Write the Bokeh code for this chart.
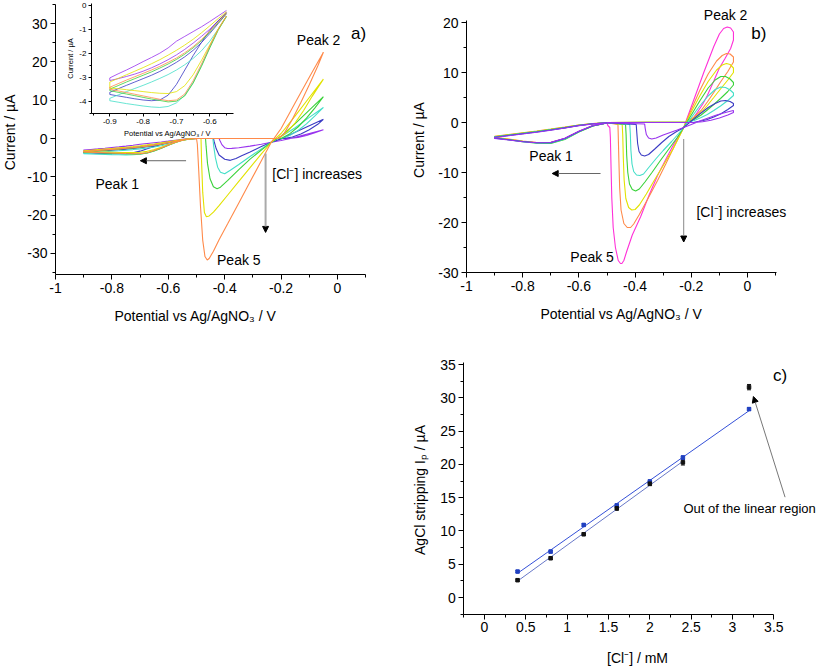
import math
import numpy as np
from bokeh.plotting import figure
from bokeh.models import (Range1d, LinearAxis, FixedTicker, Label, Arrow, NormalHead,
                          Whisker, TeeHead, ColumnDataSource, Spacer)
from bokeh.layouts import row, column
from bokeh.embed import file_html
from bokeh.resources import INLINE

FONT = "Liberation Sans"

# ---------------------------------------------------------------- panel a data
A_P1_X = [-0.9, -0.875, -0.85, -0.825, -0.8, -0.775, -0.75, -0.725, -0.7, -0.675,
          -0.65, -0.625, -0.6, -0.575, -0.55, -0.525, -0.5]

A_VIOLET_LOW = [-3.14, -3.06, -2.97, -2.87, -2.75, -2.61, -2.45, -2.27, -2.07, -1.84, -1.58, -1.3, -1.0, -0.65, -0.3, -0.1, 0.0]
A_VIOLET_UP = [-3.03, -2.86, -2.7, -2.53, -2.35, -2.18, -2.0, -1.78, -1.5, -1.3, -1.1, -0.9, -0.68, -0.45, -0.22, -0.06, 0.0]
A_VIOLET_DX = [-0.05, -0.1, -0.15, -0.2, -0.235, -0.27, -0.31, -0.35, -0.375, -0.39, -0.4, -0.41, -0.417, -0.42]
A_VIOLET_DY = [2.3, 1.3, 0.3, -0.5, -1.0, -1.5, -2.0, -2.4, -2.58, -2.6, -2.4, -1.6, -0.5, 0.0]
A_VIOLET_RX = [-0.5, -0.17, -0.14, -0.11, -0.08, -0.05]
A_VIOLET_RY = [0.0, 0.0, 0.3, 0.8, 1.5, 2.3]

A_BLUE_LOW = [-3.72, -3.78, -3.84, -3.9, -3.95, -3.98, -3.95, -3.75, -3.3, -2.7, -2.1, -1.55, -1.05, -0.65, -0.32, -0.1, 0.0]
A_BLUE_UP = [-3.63, -3.48, -3.34, -3.2, -3.06, -2.92, -2.76, -2.58, -2.38, -2.15, -1.88, -1.56, -1.18, -0.77, -0.36, -0.08, 0.0]
A_BLUE_DX = [-0.05, -0.1, -0.15, -0.2, -0.235, -0.27, -0.31, -0.34, -0.36, -0.38, -0.4, -0.42, -0.43, -0.437, -0.44]
A_BLUE_DY = [5.0, 3.3, 1.6, -0.1, -1.0, -2.1, -3.5, -4.5, -5.2, -5.7, -5.4, -4.3, -2.7, -0.9, 0.0]
A_BLUE_RX = [-0.5, -0.19, -0.16, -0.13, -0.1, -0.07, -0.05]
A_BLUE_RY = [0.0, 0.0, 0.4, 1.2, 2.3, 3.7, 5.0]

A_CYAN_LOW = [-3.98, -4.04, -4.1, -4.15, -4.2, -4.24, -4.26, -4.22, -4.07, -3.75, -3.22, -2.52, -1.75, -1.02, -0.48, -0.12, 0.0]
A_CYAN_UP = [-3.88, -3.74, -3.6, -3.47, -3.34, -3.2, -3.05, -2.89, -2.7, -2.48, -2.22, -1.9, -1.5, -1.0, -0.45, -0.08, 0.0]
A_CYAN_DX = [-0.05, -0.1, -0.15, -0.2, -0.235, -0.27, -0.31, -0.35, -0.38, -0.4, -0.415, -0.425, -0.433, -0.439, -0.442]
A_CYAN_DY = [8.1, 5.5, 2.8, 0.5, -1.0, -2.7, -4.7, -6.8, -8.3, -9.2, -8.8, -7.5, -5.0, -2.0, 0.0]
A_CYAN_RX = [-0.5, -0.2, -0.17, -0.14, -0.11, -0.08, -0.05]
A_CYAN_RY = [0.0, 0.0, 0.8, 2.1, 3.8, 5.9, 8.1]

A_GREEN_LOW = [-3.56, -3.63, -3.7, -3.77, -3.84, -3.91, -3.97, -4.03, -4.0, -3.78, -3.25, -2.55, -1.78, -1.05, -0.47, -0.12, 0.0]
A_GREEN_UP = [-3.5, -3.35, -3.2, -3.06, -2.92, -2.78, -2.62, -2.45, -2.26, -2.04, -1.78, -1.48, -1.12, -0.73, -0.34, -0.08, 0.0]
A_GREEN_DX = [-0.05, -0.1, -0.15, -0.2, -0.235, -0.27, -0.31, -0.35, -0.39, -0.415, -0.427, -0.44, -0.452, -0.461, -0.466, -0.468]
A_GREEN_DY = [10.9, 7.4, 3.9, 0.6, -1.0, -3.0, -5.4, -8.1, -11.0, -12.7, -13.1, -12.6, -10.5, -6.5, -2.0, 0.0]
A_GREEN_RX = [-0.5, -0.2, -0.17, -0.14, -0.11, -0.08, -0.05]
A_GREEN_RY = [0.0, 0.0, 1.2, 3.0, 5.3, 8.0, 10.9]

A_YELLOW_LOW = [-3.45, -3.48, -3.52, -3.56, -3.6, -3.64, -3.67, -3.68, -3.6, -3.35, -2.9, -2.3, -1.65, -1.0, -0.45, -0.12, 0.0]
A_YELLOW_UP = [-3.2, -3.05, -2.9, -2.75, -2.6, -2.44, -2.27, -2.08, -1.88, -1.66, -1.42, -1.15, -0.86, -0.56, -0.27, -0.07, 0.0]
A_YELLOW_DX = [-0.05, -0.1, -0.15, -0.2, -0.235, -0.27, -0.31, -0.35, -0.39, -0.42, -0.44, -0.455, -0.465, -0.472, -0.478, -0.482, -0.484]
A_YELLOW_DY = [15.5, 10.7, 5.9, 1.3, -1.0, -4.0, -7.6, -11.2, -14.8, -17.5, -19.2, -20.2, -20.4, -19.3, -14.0, -6.0, 0.0]
A_YELLOW_RX = [-0.5, -0.21, -0.18, -0.15, -0.12, -0.09, -0.05]
A_YELLOW_RY = [0.0, 0.0, 1.6, 4.1, 7.3, 11.0, 15.5]

A_ORANGE_LOW = [-3.5, -3.57, -3.64, -3.71, -3.78, -3.85, -3.92, -3.98, -3.95, -3.7, -3.15, -2.45, -1.7, -1.0, -0.45, -0.12, 0.0]
A_ORANGE_UP = [-3.42, -3.27, -3.12, -2.98, -2.84, -2.7, -2.55, -2.38, -2.2, -1.98, -1.73, -1.43, -1.08, -0.7, -0.32, -0.08, 0.0]
A_ORANGE_DX = [-0.05, -0.1, -0.15, -0.2, -0.235, -0.27, -0.31, -0.35, -0.39, -0.42, -0.44, -0.455, -0.462, -0.47, -0.478, -0.486, -0.492, -0.497, -0.5]
A_ORANGE_DY = [22.5, 16.0, 9.3, 2.6, -1.0, -5.8, -11.3, -16.8, -22.3, -26.4, -29.4, -31.3, -31.7, -30.8, -26.5, -17.5, -8.5, -1.5, 0.0]
A_ORANGE_RX = [-0.5, -0.21, -0.19, -0.16, -0.13, -0.1, -0.07, -0.05]
A_ORANGE_RY = [0.0, 0.0, 1.2, 5.0, 9.4, 14.0, 18.9, 22.5]

# ---------------------------------------------------------------- panel b data
B_P1_X = [-0.9, -0.85, -0.8, -0.75, -0.7, -0.65, -0.6, -0.55, -0.5]

B_VIOLET_LOW = [-3.2, -3.5, -3.85, -4.05, -4.0, -3.15, -1.75, -0.62, -0.1]
B_VIOLET_UP = [-3.0, -2.65, -2.3, -1.95, -1.55, -1.1, -0.62, -0.27, -0.05]
B_VIOLET_SX = [-0.366, -0.364, -0.36, -0.352, -0.341, -0.325, -0.3, -0.275, -0.25, -0.227, -0.2, -0.17, -0.14, -0.11, -0.085, -0.065, -0.05]
B_VIOLET_SY = [-0.3, -1.2, -2.4, -3.1, -3.3, -3.1, -2.5, -2.0, -1.5, -1.0, -0.4, 0.3, 0.9, 1.5, 1.9, 2.2, 2.4]
B_VIOLET_RX = [-0.05, -0.07, -0.1, -0.13, -0.16, -0.19, -0.5]
B_VIOLET_RY = [2.0, 1.5, 0.9, 0.45, 0.15, 0.0, 0.0]

B_BLUE_LOW = [-3.15, -3.45, -3.8, -4.05, -4.02, -3.2, -1.8, -0.64, -0.1]
B_BLUE_UP = [-2.95, -2.6, -2.25, -1.9, -1.5, -1.07, -0.6, -0.26, -0.05]
B_BLUE_SX = [-0.396, -0.394, -0.391, -0.386, -0.378, -0.366, -0.352, -0.33, -0.305, -0.28, -0.255, -0.227, -0.2, -0.17, -0.14, -0.115, -0.095, -0.078, -0.062, -0.05]
B_BLUE_SY = [-0.4, -2.0, -4.2, -5.8, -6.5, -6.7, -6.4, -5.3, -4.0, -2.8, -1.9, -1.0, 0.3, 1.7, 3.0, 3.8, 4.3, 4.4, 4.2, 3.8]
B_BLUE_RX = [-0.05, -0.07, -0.096, -0.12, -0.143, -0.165, -0.19, -0.5]
B_BLUE_RY = [3.4, 2.6, 1.7, 1.1, 0.6, 0.3, 0.05, 0.0]

B_CYAN_LOW = [-3.1, -3.45, -3.82, -4.1, -4.1, -3.3, -1.87, -0.67, -0.1]
B_CYAN_UP = [-2.9, -2.55, -2.2, -1.85, -1.46, -1.04, -0.58, -0.25, -0.05]
B_CYAN_SX = [-0.419, -0.417, -0.415, -0.411, -0.405, -0.395, -0.383, -0.37, -0.35, -0.325, -0.3, -0.27, -0.245, -0.227, -0.2, -0.17, -0.14, -0.115, -0.095, -0.078, -0.062, -0.05]
B_CYAN_SY = [-0.4, -2.3, -5.5, -8.3, -9.8, -10.5, -10.6, -10.3, -8.9, -7.2, -5.6, -3.8, -2.2, -1.0, 1.0, 3.3, 5.3, 6.6, 7.1, 7.0, 6.5, 5.9]
B_CYAN_RX = [-0.05, -0.07, -0.096, -0.12, -0.143, -0.165, -0.19, -0.21, -0.5]
B_CYAN_RY = [5.4, 4.4, 3.3, 2.4, 1.6, 1.0, 0.4, 0.05, 0.0]

B_GREEN_LOW = [-3.05, -3.45, -3.85, -4.15, -4.2, -3.4, -1.92, -0.7, -0.1]
B_GREEN_UP = [-2.85, -2.5, -2.15, -1.8, -1.42, -1.0, -0.56, -0.24, -0.05]
B_GREEN_SX = [-0.434, -0.432, -0.43, -0.426, -0.42, -0.41, -0.398, -0.385, -0.365, -0.34, -0.31, -0.28, -0.25, -0.227, -0.2, -0.17, -0.14, -0.115, -0.095, -0.078, -0.062, -0.05]
B_GREEN_SY = [-0.4, -2.5, -6.5, -10.0, -12.3, -13.4, -13.7, -13.3, -11.9, -10.0, -7.6, -5.3, -3.0, -1.0, 1.5, 4.3, 6.9, 8.5, 9.2, 9.2, 8.7, 8.0]
B_GREEN_RX = [-0.05, -0.07, -0.096, -0.12, -0.143, -0.165, -0.19, -0.21, -0.5]
B_GREEN_RY = [7.5, 6.2, 4.8, 3.6, 2.5, 1.5, 0.6, 0.1, 0.0]

B_YELLOW_LOW = [-3.0, -3.35, -3.75, -4.05, -4.07, -3.3, -1.86, -0.68, -0.1]
B_YELLOW_UP = [-2.8, -2.45, -2.1, -1.75, -1.37, -0.96, -0.53, -0.22, -0.05]
B_YELLOW_SX = [-0.446, -0.444, -0.442, -0.439, -0.433, -0.423, -0.412, -0.4, -0.385, -0.36, -0.33, -0.3, -0.265, -0.227, -0.2, -0.17, -0.14, -0.11, -0.09, -0.075, -0.062, -0.05]
B_YELLOW_SY = [-0.4, -2.5, -7.0, -11.5, -15.2, -17.0, -17.5, -17.4, -16.5, -14.3, -11.4, -8.6, -5.3, -1.0, 2.1, 5.3, 8.2, 10.5, 11.5, 11.8, 11.6, 10.9]
B_YELLOW_RX = [-0.05, -0.07, -0.096, -0.12, -0.143, -0.165, -0.19, -0.212, -0.5]
B_YELLOW_RY = [10.0, 8.5, 6.7, 5.0, 3.4, 2.0, 0.9, 0.1, 0.0]

B_ORANGE_LOW = [-2.95, -3.3, -3.7, -4.0, -4.02, -3.25, -1.82, -0.66, -0.1]
B_ORANGE_UP = [-2.75, -2.4, -2.05, -1.7, -1.33, -0.93, -0.51, -0.21, -0.05]
B_ORANGE_SX = [-0.461, -0.46, -0.458, -0.455, -0.45, -0.44, -0.428, -0.416, -0.405, -0.385, -0.355, -0.32, -0.29, -0.26, -0.227, -0.2, -0.17, -0.14, -0.11, -0.09, -0.075, -0.062, -0.05]
B_ORANGE_SY = [-0.4, -2.5, -7.0, -13.0, -17.5, -20.2, -21.0, -21.0, -20.3, -18.4, -15.3, -11.6, -8.2, -4.7, -1.0, 2.6, 6.4, 9.7, 12.3, 13.4, 13.8, 13.7, 13.1]
B_ORANGE_RX = [-0.05, -0.07, -0.096, -0.12, -0.143, -0.165, -0.19, -0.215, -0.5]
B_ORANGE_RY = [12.1, 10.2, 8.1, 6.0, 4.1, 2.4, 1.1, 0.1, 0.0]

B_MAGENTA_LOW = [-3.1, -3.4, -3.75, -4.0, -3.97, -3.17, -1.77, -0.62, -0.1]
B_MAGENTA_UP = [-2.9, -2.55, -2.2, -1.85, -1.45, -1.03, -0.57, -0.25, -0.05]
B_MAGENTA_SX = [-0.497, -0.49, -0.488, -0.486, -0.483, -0.478, -0.47, -0.46, -0.452, -0.447, -0.44, -0.43, -0.41, -0.38, -0.35, -0.32, -0.29, -0.26, -0.227, -0.19, -0.155, -0.12, -0.1, -0.085, -0.072, -0.06, -0.05]
B_MAGENTA_SY = [-0.6, -1.0, -3.0, -8.0, -15.0, -21.0, -25.0, -27.6, -28.2, -28.2, -27.6, -25.8, -22.5, -18.8, -14.5, -10.6, -7.3, -4.1, -1.0, 4.7, 10.1, 15.2, 17.7, 18.8, 19.1, 18.9, 18.1]
B_MAGENTA_RX = [-0.05, -0.06, -0.08, -0.1, -0.12, -0.143, -0.16, -0.179, -0.2, -0.22, -0.5]
B_MAGENTA_RY = [16.5, 14.8, 12.8, 10.9, 8.3, 5.4, 3.6, 2.0, 0.3, 0.0, 0.0]

# ---------------------------------------------------------------- panel c data
C_X_BLUE = [0.4, 0.8, 1.2, 1.6, 2.0, 2.4, 3.2]
C_Y_BLUE = [3.9, 6.9, 10.9, 13.8, 17.4, 21.0, 28.3]
C_E_BLUE = [0.15, 0.2, 0.2, 0.3, 0.3, 0.3, 0.2]
C_X_BLACK = [0.4, 0.8, 1.2, 1.6, 2.0, 2.4, 3.2]
C_Y_BLACK = [2.6, 5.9, 9.5, 13.4, 17.1, 20.3, 31.6]
C_E_BLACK = [0.15, 0.2, 0.2, 0.3, 0.3, 0.4, 0.4]

# ---------------------------------------------------------------- ticks
A_XTICKS = [-1, -0.8, -0.6, -0.4, -0.2, 0]
A_XLABELS = ["-1", "-0.8", "-0.6", "-0.4", "-0.2", "0"]
A_XMINOR = [-0.9, -0.7, -0.5, -0.3, -0.1, 0.1]
A_YTICKS = [-30, -20, -10, 0, 10, 20, 30]
A_YLABELS = ["-30", "-20", "-10", "0", "10", "20", "30"]
A_YMINOR = [-35, -25, -15, -5, 5, 15, 25, 35]
B_YTICKS = [-30, -20, -10, 0, 10, 20]
B_YLABELS = ["-30", "-20", "-10", "0", "10", "20"]
B_YMINOR = [-25, -15, -5, 5, 15]
C_XTICKS = [0, 0.5, 1, 1.5, 2, 2.5, 3, 3.5]
C_XLABELS = ["0", "0.5", "1", "1.5", "2", "2.5", "3", "3.5"]
C_XMINOR = [-0.25, 0.25, 0.75, 1.25, 1.75, 2.25, 2.75, 3.25]
C_YTICKS = [0, 5, 10, 15, 20, 25, 30, 35]
C_YLABELS = ["0", "5", "10", "15", "20", "25", "30", "35"]
C_YMINOR = [-2.5, 2.5, 7.5, 12.5, 17.5, 22.5, 27.5, 32.5]
I_XTICKS = [-0.9, -0.8, -0.7, -0.6]
I_XLABELS = ["-0.9", "-0.8", "-0.7", "-0.6"]
I_XMINOR = [-0.95, -0.85, -0.75, -0.65, -0.55]
I_YTICKS = [-4, -3, -2, -1, 0]
I_YLABELS = ["-4", "-3", "-2", "-1", "0"]
I_YMINOR = [-4.5, -3.5, -2.5, -1.5, -0.5]

COL = {"violet": "#9933ee", "blue": "#3b3bc4", "cyan": "#44dfc8", "green": "#3ad23a",
       "yellow": "#e2e200", "orange": "#ff8a4a", "magenta": "#ff30d8"}

A_CURVES = [
    ("violet", A_VIOLET_LOW, A_VIOLET_UP, A_VIOLET_DX, A_VIOLET_DY, A_VIOLET_RX, A_VIOLET_RY),
    ("blue", A_BLUE_LOW, A_BLUE_UP, A_BLUE_DX, A_BLUE_DY, A_BLUE_RX, A_BLUE_RY),
    ("cyan", A_CYAN_LOW, A_CYAN_UP, A_CYAN_DX, A_CYAN_DY, A_CYAN_RX, A_CYAN_RY),
    ("green", A_GREEN_LOW, A_GREEN_UP, A_GREEN_DX, A_GREEN_DY, A_GREEN_RX, A_GREEN_RY),
    ("yellow", A_YELLOW_LOW, A_YELLOW_UP, A_YELLOW_DX, A_YELLOW_DY, A_YELLOW_RX, A_YELLOW_RY),
    ("orange", A_ORANGE_LOW, A_ORANGE_UP, A_ORANGE_DX, A_ORANGE_DY, A_ORANGE_RX, A_ORANGE_RY),
]
B_CURVES = [
    ("magenta", B_MAGENTA_LOW, B_MAGENTA_UP, B_MAGENTA_SX, B_MAGENTA_SY, B_MAGENTA_RX, B_MAGENTA_RY),
    ("orange", B_ORANGE_LOW, B_ORANGE_UP, B_ORANGE_SX, B_ORANGE_SY, B_ORANGE_RX, B_ORANGE_RY),
    ("yellow", B_YELLOW_LOW, B_YELLOW_UP, B_YELLOW_SX, B_YELLOW_SY, B_YELLOW_RX, B_YELLOW_RY),
    ("green", B_GREEN_LOW, B_GREEN_UP, B_GREEN_SX, B_GREEN_SY, B_GREEN_RX, B_GREEN_RY),
    ("cyan", B_CYAN_LOW, B_CYAN_UP, B_CYAN_SX, B_CYAN_SY, B_CYAN_RX, B_CYAN_RY),
    ("blue", B_BLUE_LOW, B_BLUE_UP, B_BLUE_SX, B_BLUE_SY, B_BLUE_RX, B_BLUE_RY),
    ("violet", B_VIOLET_LOW, B_VIOLET_UP, B_VIOLET_SX, B_VIOLET_SY, B_VIOLET_RX, B_VIOLET_RY),
]


def span(v0, px0, ppu, lo_px, hi_px, invert=False):
    """Range whose value v0 sits at page pixel px0 with ppu pixels per unit."""
    if invert:  # vertical: page y grows downward
        return (v0 - (hi_px - px0) / ppu, v0 + (px0 - lo_px) / ppu)
    return (v0 - (px0 - lo_px) / ppu, v0 + (hi_px - px0) / ppu)


def make_fig(w, h, xr, yr):
    p = figure(width=w, height=h, x_range=Range1d(*xr), y_range=Range1d(*yr),
               output_backend="svg", toolbar_location=None, min_border=0,
               min_border_left=0, min_border_right=0, min_border_top=0, min_border_bottom=0,
               x_axis_location=None, y_axis_location=None)
    p.outline_line_color = None
    p.xgrid.visible = False
    p.ygrid.visible = False
    p.background_fill_color = "white"
    p.border_fill_color = "white"
    return p


def style_axis(ax, ticks, labels, minor, size="14px", tout=5, mout=3, standoff=3):
    ax.ticker = FixedTicker(ticks=ticks, minor_ticks=minor)
    ax.major_label_overrides = {t: l for t, l in zip(ticks, labels)}
    ax.major_tick_out = tout
    ax.major_tick_in = 0
    ax.minor_tick_out = mout
    ax.minor_tick_in = 0
    ax.axis_line_color = "black"
    ax.major_tick_line_color = "black"
    ax.minor_tick_line_color = "black"
    ax.major_label_text_font = FONT
    ax.major_label_text_font_size = size
    ax.major_label_text_color = "black"
    ax.major_label_standoff = standoff


def add_axes(p, xloc, xb, yloc, yb, xt, yt, size="14px", tout=5, mout=3, standoff=3, rn=None):
    kw = {} if rn is None else dict(x_range_name=rn[0], y_range_name=rn[1])
    xa = LinearAxis(fixed_location=xloc, bounds=xb, **kw)
    style_axis(xa, *xt, size=size, tout=tout, mout=mout, standoff=standoff)
    p.add_layout(xa, "below")
    ya = LinearAxis(fixed_location=yloc, bounds=yb, **kw)
    style_axis(ya, *yt, size=size, tout=tout, mout=mout, standoff=standoff)
    p.add_layout(ya, "left")


def label(p, x, y, text, size="14px", align="center", angle=0.0, **kw):
    p.add_layout(Label(x=x, y=y, text=text, text_font=FONT, text_font_size=size,
                       text_color="black", text_align=align, text_baseline="middle",
                       angle=angle, **kw))


def arrow(p, x0, y0, x1, y1, color="#777777", width=1.0, head=6):
    p.add_layout(Arrow(end=NormalHead(size=head, fill_color="black", line_color="black", line_width=1),
                       x_start=x0, y_start=y0, x_end=x1, y_end=y1,
                       line_color=color, line_width=width))


# ================================================================ panel a  (page box x 0..400, y 0..330)
pa = make_fig(400, 330, span(-1.0, 55, 282, 0, 400), span(0.0, 138, 3.833, 0, 330, invert=True))
add_axes(pa, -35.5, (-1.0, 0.1), -1.0, (-35.5, 35.0),
         (A_XTICKS, A_XLABELS, A_XMINOR), (A_YTICKS, A_YLABELS, A_YMINOR))

for name, low, up, dx, dy, rx, ry in A_CURVES:
    xs = dx + A_P1_X[::-1] + A_P1_X + rx
    ys = dy + low[::-1] + up + ry
    pa.line(xs, ys, line_color=COL[name], line_width=1.1)

# inset, with its own ranges inside panel a
pa.extra_x_ranges = {"ix": Range1d(*span(-0.9, 109.3, 333.3, 0, 400))}
pa.extra_y_ranges = {"iy": Range1d(*span(0.0, 4.7, 24.0, 0, 330, invert=True))}
n_in = 15
for name, low, up, dx, dy, rx, ry in A_CURVES:
    xs = A_P1_X[:n_in][::-1] + A_P1_X[:n_in]
    ys = low[:n_in][::-1] + up[:n_in]
    pa.line(xs, ys, line_color=COL[name], line_width=1.0, line_alpha=0.8,
            x_range_name="ix", y_range_name="iy")
add_axes(pa, -4.53, (-0.955, -0.53), -0.955, (-4.53, 0.06),
         (I_XTICKS, I_XLABELS, I_XMINOR), (I_YTICKS, I_YLABELS, I_YMINOR),
         size="8px", tout=3, mout=2, standoff=2, rn=("ix", "iy"))
label(pa, -0.727, -5.35, "Potential vs Ag/AgNO\u2083 / V", size="7.5px", x_range_name="ix", y_range_name="iy")
label(pa, -1.018, -2.22, "Current / µA", size="7.5px", angle=math.pi / 2, x_range_name="ix", y_range_name="iy")

label(pa, -1.1631, 1.6, "Current / µA", angle=math.pi / 2)
label(pa, -0.5035, -46.2, "Potential vs Ag/AgNO\u2083 / V")
label(pa, -0.067, 25.6, "Peak 2")
label(pa, 0.075, 27.4, "a)", size="17px")
label(pa, -0.781, -11.8, "Peak 1")
label(pa, -0.072, -9.2, "[Cl\u207b] increases")
label(pa, -0.35, -31.7, "Peak 5")
arrow(pa, -0.255, -3.9, -0.255, -24.5, color="#aaaaaa", width=2.0)
arrow(pa, -0.537, -5.8, -0.699, -5.8, color="#666666", width=1.0)

# ================================================================ panel b  (page box x 400..816, y 0..330)
pb = make_fig(416, 330, span(-1.0, 466, 281, 400, 816), span(0.0, 122, 5.0, 0, 330, invert=True))
add_axes(pb, -30.0, (-1.0, 0.1032), -1.0, (-30.0, 20.5),
         (A_XTICKS, A_XLABELS, A_XMINOR), (B_YTICKS, B_YLABELS, B_YMINOR))

for name, low, up, sx, sy, rx, ry in B_CURVES:
    xs = B_P1_X[::-1] + B_P1_X + sx + rx
    ys = low[::-1] + up + sy + ry
    pb.line(xs, ys, line_color=COL[name], line_width=1.1)

label(pb, -1.1708, -3.5, "Current / µA", angle=math.pi / 2)
label(pb, -0.4484, -38.2, "Potential vs Ag/AgNO\u2083 / V")
label(pb, -0.078, 21.6, "Peak 2")
label(pb, 0.04, 17.9, "b)", size="17px")
label(pb, -0.699, -6.7, "Peak 1")
label(pb, -0.022, -17.9, "[Cl\u207b] increases")
label(pb, -0.553, -26.9, "Peak 5")
arrow(pb, -0.227, -3.3, -0.227, -23.9, color="#888888", width=1.0)
arrow(pb, -0.523, -10.2, -0.695, -10.2, color="#666666", width=1.0)

# ================================================================ panel c  (page box x 400..816, y 330..666)
pc = make_fig(416, 336, span(0.0, 484, 82.667, 400, 816), span(0.0, 597, 6.657, 330, 666, invert=True))
add_axes(pc, -2.55, (-0.25, 3.5), -0.25, (-2.55, 35.3),
         (C_XTICKS, C_XLABELS, C_XMINOR), (C_YTICKS, C_YLABELS, C_YMINOR))

kb, bb_ = np.polyfit(C_X_BLUE, C_Y_BLUE, 1)
fx_b = [C_X_BLUE[0], C_X_BLUE[-1]]
pc.line(fx_b, [kb * v + bb_ for v in fx_b], line_color="#3450d8", line_width=1.0)
kk, bk = np.polyfit(C_X_BLACK[:6], C_Y_BLACK[:6], 1)
fx_k = [C_X_BLACK[0], C_X_BLACK[5]]
pc.line(fx_k, [kk * v + bk for v in fx_k], line_color="#6878c8", line_width=1.0)

src_b = ColumnDataSource(dict(x=C_X_BLUE, y=C_Y_BLUE,
                              lo=[y - e for y, e in zip(C_Y_BLUE, C_E_BLUE)],
                              hi=[y + e for y, e in zip(C_Y_BLUE, C_E_BLUE)]))
src_k = ColumnDataSource(dict(x=C_X_BLACK, y=C_Y_BLACK,
                              lo=[y - e for y, e in zip(C_Y_BLACK, C_E_BLACK)],
                              hi=[y + e for y, e in zip(C_Y_BLACK, C_E_BLACK)]))
for src, colr in ((src_b, "#2040c0"), (src_k, "#111111")):
    pc.add_layout(Whisker(source=src, base="x", lower="lo", upper="hi", line_color=colr, line_width=1,
                          lower_head=TeeHead(size=4, line_color=colr), upper_head=TeeHead(size=4, line_color=colr)))
pc.scatter("x", "y", source=src_b, marker="square", size=3.5, fill_color="#2040c0", line_color="#2040c0")
pc.scatter("x", "y", source=src_k, marker="square", size=3.5, fill_color="#111111", line_color="#111111")

label(pc, -0.7827, 16.15, "AgCl stripping I\u209a / µA", angle=math.pi / 2)
label(pc, 1.851, -9.16, "[Cl\u207b] / mM")
label(pc, 3.575, 33.3, "c)", size="17px")
label(pc, 2.407, 13.3, "Out of the linear region", size="13px", align="left")
arrow(pc, 3.636, 15.07, 3.253, 30.19, color="#777777", width=1.0, head=6)

layout = column(row(pa, pb), row(Spacer(width=400, height=336), pc))
open("out.html", "w").write(file_html(layout, INLINE))
